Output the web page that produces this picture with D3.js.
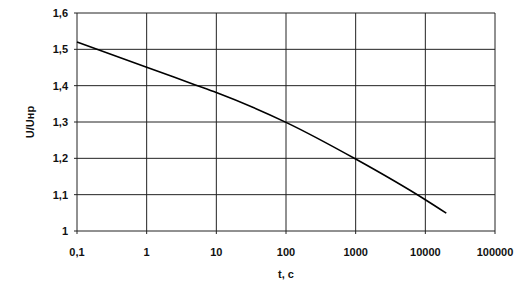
<!DOCTYPE html>
<html>
<head>
<meta charset="utf-8">
<script src="https://cdn.jsdelivr.net/npm/d3@7"></script>
<style>
  body { margin: 0; background: #fff; }
  text { font-family: "Liberation Sans", Arial, sans-serif; fill: #111; }
</style>
</head>
<body>
<script>
// Значения
var tValues = [0.1, 1, 5, 10, 100, 1000, 10000, 20000];
var uValues = [1.52, 1.451, 1.402, 1.381, 1.299, 1.198, 1.086, 1.049];
var xTicks = [0.1, 1, 10, 100, 1000, 10000, 100000];
var xTickLabels = ["0,1", "1", "10", "100", "1000", "10000", "100000"];
var yTicks = [1, 1.1, 1.2, 1.3, 1.4, 1.5, 1.6];
var yTickLabels = ["1", "1,1", "1,2", "1,3", "1,4", "1,5", "1,6"];

var width = 522, height = 289;
var margin = { left: 77, top: 13, right: 27, bottom: 58 };

var svg = d3.select("body").append("svg")
    .attr("width", width)
    .attr("height", height);

var x = d3.scaleLog().domain([0.1, 100000]).range([margin.left, width - margin.right]);
var y = d3.scaleLinear().domain([1, 1.6]).range([height - margin.bottom, margin.top]);

// сетка
svg.append("g").selectAll("line").data(xTicks).enter().append("line")
    .attr("x1", d => x(d)).attr("x2", d => x(d))
    .attr("y1", y(1.6)).attr("y2", y(1) + 3)
    .attr("stroke", "#222").attr("stroke-width", 1);

svg.append("g").selectAll("line").data(yTicks).enter().append("line")
    .attr("x1", x(0.1) - 3).attr("x2", x(100000))
    .attr("y1", d => y(d)).attr("y2", d => y(d))
    .attr("stroke", "#222").attr("stroke-width", 1);

// подписи осей
svg.append("g").selectAll("text").data(xTicks).enter().append("text")
    .attr("x", d => x(d))
    .attr("y", y(1) + 25)
    .attr("text-anchor", "middle")
    .attr("font-size", 11)
    .attr("font-weight", "bold")
    .text((d, i) => xTickLabels[i]);

svg.append("g").selectAll("text").data(yTicks).enter().append("text")
    .attr("x", x(0.1) - 9)
    .attr("y", d => y(d) + 4)
    .attr("text-anchor", "end")
    .attr("font-size", 11)
    .attr("font-weight", "bold")
    .text((d, i) => yTickLabels[i]);

svg.append("text")
    .attr("x", x(100))
    .attr("y", 278)
    .attr("text-anchor", "middle")
    .attr("font-size", 11)
    .attr("font-weight", "bold")
    .text("t, c");

svg.append("text")
    .attr("transform", "translate(34," + (margin.top + (height - margin.bottom - margin.top) / 2) + ") rotate(-90)")
    .attr("text-anchor", "middle")
    .attr("font-size", 11)
    .attr("font-weight", "bold")
    .text("U/Uнр");

// кривая
var line = d3.line()
    .x((d, i) => x(tValues[i]))
    .y((d, i) => y(uValues[i]))
    .curve(d3.curveMonotoneX);

svg.append("path")
    .datum(uValues)
    .attr("d", line)
    .attr("fill", "none")
    .attr("stroke", "#000")
    .attr("stroke-width", 1.6);
</script>
</body>
</html>
